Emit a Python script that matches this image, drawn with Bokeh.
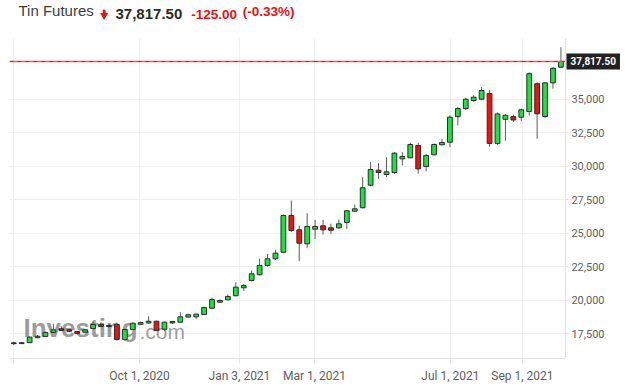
from bokeh.plotting import figure
from bokeh.layouts import column
from bokeh.models import (Range1d, FixedTicker, Label, ColumnDataSource,
                          NumeralTickFormatter)
from bokeh.embed import file_html
from bokeh.resources import INLINE

# ---- data (weekly candles, Tin Futures) ----
opens = [16820, 16760, 16830, 17200, 17300, 17590, 17870, 17790, 17660, 17610,
         17890, 18190, 18040, 18186, 17070, 17810, 18200, 18300, 18430, 17830,
         18300, 18360, 18740, 18760, 18930, 19400, 19850, 20030, 20330, 20930,
         21470, 21900, 22590, 23090, 23580, 26320, 25250, 24210, 25300, 25550,
         25400, 25400, 25800, 26640, 26900, 28580, 29700, 29380, 29530, 30550,
         30630, 31545, 29980, 30850, 31600, 31790, 33700, 34300, 34900, 35000,
         35430, 31700, 33500, 33700, 33660, 34080, 36150, 33710, 36220, 37390]
highs = [16900, 16880, 17300, 17400, 17650, 18240, 18060, 17850, 17700, 17850,
         18430, 18360, 18200, 18335, 17850, 18330, 18400, 18800, 18480, 18400,
         18460, 19100, 19000, 19000, 19500, 20200, 20050, 20430, 21340, 21200,
         22220, 23090, 23460, 23760, 26400, 27440, 25575, 26490, 26000, 26000,
         25700, 26020, 26750, 27140, 29180, 30300, 30220, 30670, 31050, 31045,
         31750, 31750, 30900, 31700, 32045, 33800, 34400, 35100, 35300, 35900,
         35700, 34000, 33900, 33850, 34300, 37015, 36270, 36270, 37400, 38880]
lows = [16650, 16740, 16800, 17150, 17280, 17550, 17700, 17620, 17450, 17520,
        17860, 17990, 17950, 16990, 17000, 17780, 18150, 18250, 17700, 17690,
        18240, 18330, 18700, 18580, 18900, 19350, 19780, 20000, 20300, 20700,
        21400, 21850, 22500, 23000, 23500, 25075, 22910, 23910, 24580, 24900,
        24950, 25330, 25330, 26600, 26850, 28500, 29060, 29180, 29430, 30050,
        30600, 29430, 29630, 30800, 31550, 31420, 33040, 34200, 34800, 34950,
        31450, 31600, 31900, 33300, 33360, 33780, 32045, 33600, 35780, 37340]
closes = [16760, 16830, 17240, 17310, 17590, 17790, 17740, 17680, 17520, 17790,
          18190, 18040, 18110, 17067, 17810, 18280, 18330, 18430, 17740, 18360,
          18410, 18760, 18910, 18960, 19460, 20050, 19980, 20280, 20970, 21100,
          21970, 22590, 23090, 23510, 26320, 25200, 24254, 25500, 25500, 25250,
          25220, 25700, 26670, 26820, 28390, 29750, 29530, 29580, 30970, 30720,
          31620, 29800, 30800, 31620, 31770, 33660, 34300, 35000, 35150, 35650,
          31700, 33900, 33800, 33450, 34210, 36900, 33910, 36220, 37310, 37817.5]

x_tick_pos = [0, 15.85, 28.46, 37.92, 55.07, 64.15]
x_tick_labels = ["", "Oct 1, 2020", "Jan 3, 2021", "Mar 1, 2021", "Jul 1, 2021", "Sep 1, 2021"]
y_ticks = [17500, 20000, 22500, 25000, 27500, 30000, 32500, 35000]

title_name = "Tin Futures"
last_price = 37817.50
last_price_text = "37,817.50"
change_text = "-125.00"
change_pct_text = "(-0.33%)"

# ---- build ----
GREEN = "#19e33c"
RED = "#f01010"
X_MIN, AXIS_X, X_MAX = -0.54, 69.57, 77.27
xs = list(range(len(opens)))
colors = [GREEN if c >= o else RED for o, c in zip(opens, closes)]
src = ColumnDataSource(dict(
    x=xs, high=highs, low=lows,
    top=[max(o, c) for o, c in zip(opens, closes)],
    bottom=[min(o, c) for o, c in zip(opens, closes)],
    color=colors))

# header strip (its data space is pixel space: 626 x 38)
h = figure(width=626, height=38, output_backend="svg", toolbar_location=None,
           x_range=Range1d(0, 626), y_range=Range1d(0, 38),
           x_axis_type=None, y_axis_type=None, min_border=0)
h.outline_line_color = None
h.xgrid.visible = False
h.ygrid.visible = False
hy = 19.7
h.add_layout(Label(x=9, y=hy, x_units="screen", y_units="screen", text=title_name,
                   text_font="Liberation Sans", text_font_size="15px", text_color="#3c3c3c"))
# red "down" arrow icon: shaft + head
h.quad(left=[94.6], right=[97.4], bottom=[24.5], top=[28.7], fill_color="#e81010", line_color=None)
h.scatter(x=[96], y=[23.2], marker="inverted_triangle", size=8,
          fill_color="#e81010", line_color=None)
h.add_layout(Label(x=106, y=hy, x_units="screen", y_units="screen", text=last_price_text,
                   text_font="Liberation Sans", text_font_style="bold", text_font_size="15px",
                   text_color="#2a2a2a"))
h.add_layout(Label(x=181.7, y=hy, x_units="screen", y_units="screen", text=change_text,
                   text_font="Liberation Sans", text_font_style="bold", text_font_size="13.5px",
                   text_color="#e81010"))
h.add_layout(Label(x=233.3, y=hy, x_units="screen", y_units="screen", text=change_pct_text,
                   text_font="Liberation Sans", text_font_style="bold", text_font_size="13.5px",
                   text_color="#e81010"))

p = figure(width=626, height=354, output_backend="svg", toolbar_location=None,
           x_range=Range1d(X_MIN, X_MAX), y_range=Range1d(15649, 39530),
           y_axis_location="right", x_axis_location="below",
           min_border_left=9, min_border_right=0, min_border_top=0, min_border_bottom=34)
p.outline_line_color = None
p.background_fill_color = "white"
p.border_fill_color = "white"

# grid
p.xgrid.ticker = FixedTicker(ticks=x_tick_pos)
p.ygrid.ticker = FixedTicker(ticks=y_ticks)
p.xgrid.grid_line_color = "#eef0f3"
p.ygrid.grid_line_color = "#eef0f3"
if "cross_bounds" in p.ygrid[0].properties():
    p.ygrid.cross_bounds = (X_MIN, AXIS_X)

# axes
p.xaxis.ticker = FixedTicker(ticks=x_tick_pos)
p.xaxis.major_label_overrides = {k: v for k, v in zip(x_tick_pos, x_tick_labels)}
p.xaxis.bounds = (X_MIN, AXIS_X)
p.yaxis.ticker = FixedTicker(ticks=y_ticks)
p.yaxis.formatter = NumeralTickFormatter(format="0,0")
p.yaxis.fixed_location = AXIS_X
for ax in (p.xaxis[0], p.yaxis[0]):
    ax.axis_line_color = "#dfe2e7"
    ax.major_tick_line_color = "#dfe2e7"
    ax.minor_tick_line_color = None
    ax.major_tick_in = 0
    ax.major_label_text_color = "#606060"
    ax.major_label_text_font = "Roboto"
p.xaxis.major_tick_out = 5
p.xaxis.major_label_standoff = 5
p.xaxis.major_label_text_font_size = "12px"
p.yaxis.major_tick_out = 3
p.yaxis.major_label_standoff = 3
p.yaxis.major_label_text_font_size = "11px"

# watermark
p.add_layout(Label(x=14, y=16, x_units="screen", y_units="screen", text="Investing",
                   text_font="Liberation Sans", text_font_style="bold", text_font_size="26px",
                   text_color="#7c7c7c", text_alpha=0.75, level="underlay"))
p.add_layout(Label(x=130, y=16, x_units="screen", y_units="screen", text=".com",
                   text_font="Liberation Sans", text_font_size="21px",
                   text_color="#7c7c7c", text_alpha=0.75, level="underlay"))

# candles
p.segment(x0="x", y0="low", x1="x", y1="high", source=src, line_color="#5a5a5a", line_width=1)
p.vbar(x="x", width=0.6, top="top", bottom="bottom", source=src,
       fill_color="color", line_color="#2b2b2b", line_width=1)

# last price line (from left edge of plot to price axis)
p.line(x=[X_MIN, AXIS_X], y=[last_price, last_price], line_color="#f25c5c", line_width=1.5)
p.line(x=[X_MIN, AXIS_X], y=[last_price, last_price], line_color="#b03030",
       line_width=1, line_dash="4 4")
p.add_layout(Label(x=AXIS_X, y=last_price, x_offset=1, text=last_price_text,
                   text_font="Roboto", text_font_style="bold", text_font_size="10px",
                   text_color="white", text_baseline="middle", background_fill_color="#222222",
                   padding=4, level="overlay"))

layout = column(h, p, spacing=0)
open("out.html", "w").write(file_html(layout, INLINE))
